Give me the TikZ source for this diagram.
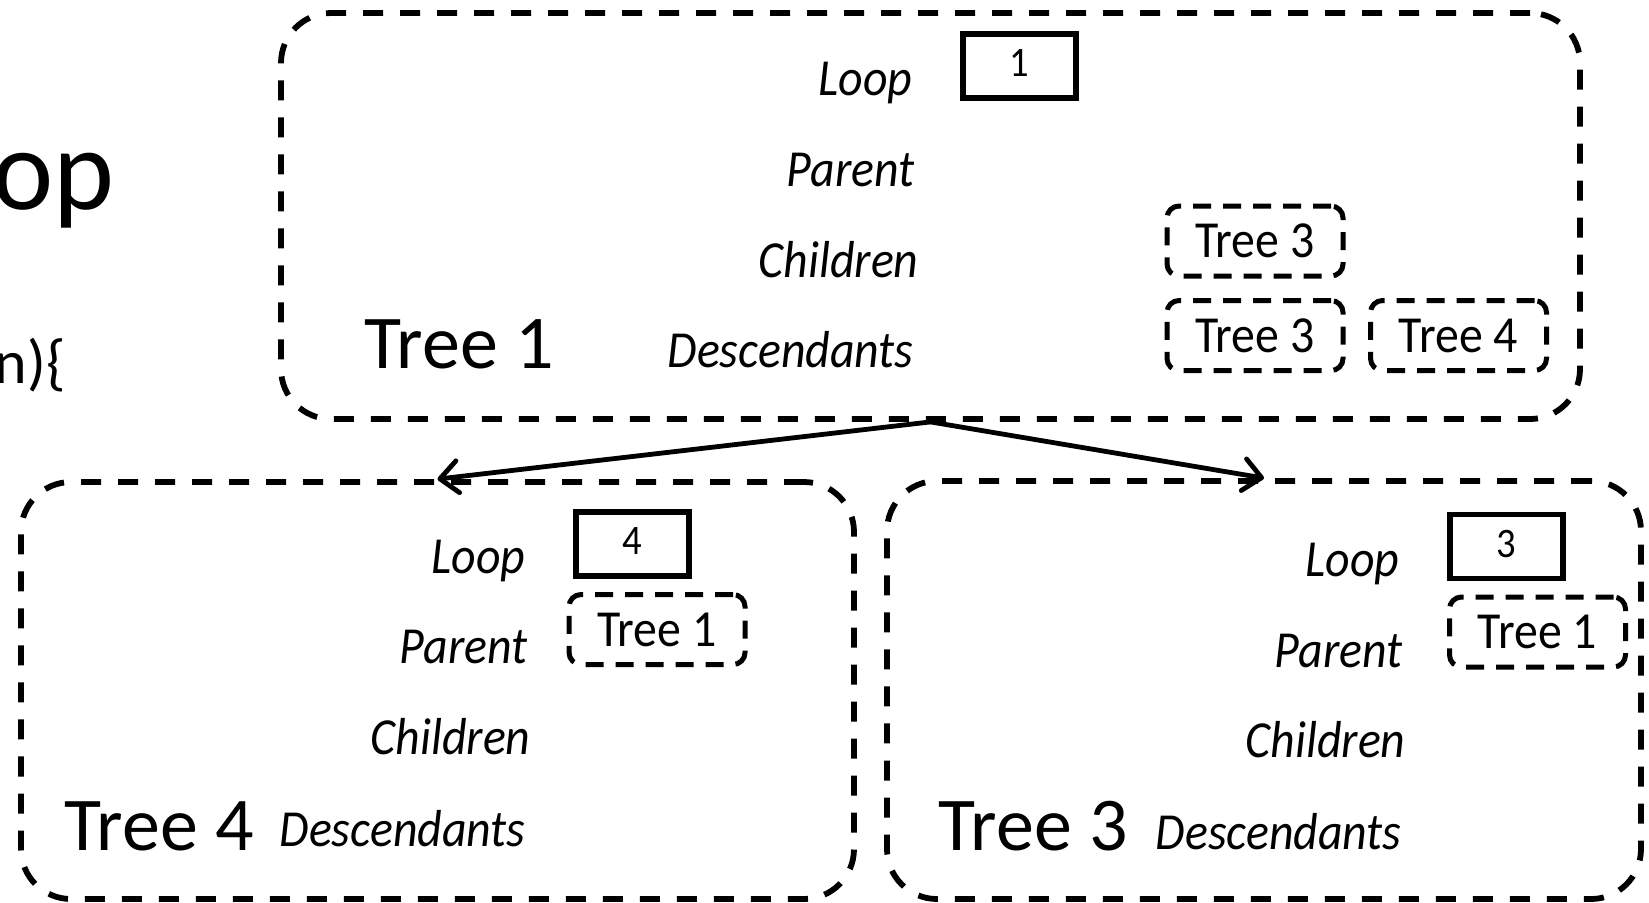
\documentclass[tikz,border=0pt]{standalone}
\usepackage{fontspec}
\setmainfont{Carlito}
\newfontfamily\narrowfont{Carlito}[FakeStretch=0.92]
\usepackage{tikz}
\usetikzlibrary{arrows.meta, positioning}

\newcommand{\fieldfont}{\narrowfont\fontsize{26}{30}\selectfont\itshape}
\newcommand{\namefont}{\fontsize{38}{44}\selectfont}
\newcommand{\smallfont}{\narrowfont\fontsize{26}{30}\selectfont}
\newcommand{\numfont}{\narrowfont\fontsize{21}{25}\selectfont}

\begin{document}
\begin{tikzpicture}[
    x=0.5pt, y=-0.5pt,
    treebox/.style={draw, line width=2.9pt, dash pattern=on 10pt off 8.5pt, rounded corners=25pt, inner sep=0pt},
    reftree/.style={draw, line width=2.5pt, dash pattern=on 9pt off 6pt, rounded corners=6pt, minimum width=88pt, minimum height=35pt, inner sep=0pt, font=\smallfont},
    loopbox/.style={draw, line width=2.8pt, minimum width=56.5pt, minimum height=32pt, inner sep=0pt, font=\numfont},
    field/.style={anchor=base east, inner sep=0pt, font=\fieldfont},
    bigname/.style={anchor=base west, inner sep=0pt, font=\namefont},
    arrow/.style={-{Straight Barb[length=9pt, width=16pt, round]}, line width=2.4pt, line cap=round}
]
\useasboundingbox (0,0) rectangle (1649,902);
\clip (0,0) rectangle (1649,902);

% slide text cut off at the left
\node[anchor=base east, inner sep=0pt, font=\fontsize{58}{66}\selectfont] (title) at (115,209) {op};
\node[anchor=base east, inner sep=0pt, font=\fontsize{31}{36}\selectfont] (code) at (66,383) {n)\{};

% Tree 1
\node[treebox, minimum width=649.5pt, minimum height=203pt] (t1) at (930.5,216) {};
\node[bigname] (t1name) at (364,368) {Tree 1};
\node[field] (t1l) at (913,95) {Loop};
\node[field] (t1p) at (915,186) {Parent};
\node[field] (t1c) at (919,277) {Children};
\node[field] (t1d) at (914,367) {Descendants};
\node[loopbox] (t1loop) at (1019.5,66) {\raisebox{3pt}{1}};
\node[reftree] (t1c1) at (1255,241) {Tree 3};
\node[reftree] (t1d1) at (1255,335.5) {Tree 3};
\node[reftree] (t1d2) at (1458.5,335.5) {Tree 4};

% Tree 4
\node[treebox, minimum width=416.5pt, minimum height=208.5pt] (t4) at (437.5,690.5) {};
\node[bigname] (t4name) at (64,850) {Tree 4};
\node[field] (t4l) at (526,573) {Loop};
\node[field] (t4p) at (528,663) {Parent};
\node[field] (t4c) at (531,754) {Children};
\node[field] (t4d) at (526,846) {Descendants};
\node[loopbox] (t4loop) at (632.5,544) {\raisebox{3pt}{4}};
\node[reftree] (t4p1) at (657,629.5) {Tree 1};

% Tree 3
\node[treebox, minimum width=377pt, minimum height=209pt] (t3) at (1264,690) {};
\node[bigname] (t3name) at (938,850) {Tree 3};
\node[field] (t3l) at (1400,576) {Loop};
\node[field] (t3p) at (1403,667) {Parent};
\node[field] (t3c) at (1406,757) {Children};
\node[field] (t3d) at (1402,849) {Descendants};
\node[loopbox] (t3loop) at (1506.5,546.5) {\raisebox{3pt}{3}};
\node[reftree] (t3p1) at (1537.5,632) {Tree 1};

\draw[arrow] (t1.south) -- (t4.north);
\draw[arrow] (t1.south) -- (t3.north);
\end{tikzpicture}
\end{document}
